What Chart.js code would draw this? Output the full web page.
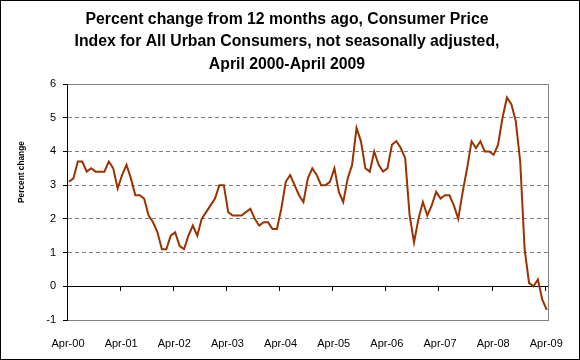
<!DOCTYPE html>
<html>
<head>
<meta charset="utf-8">
<script src="https://cdn.jsdelivr.net/npm/chart.js@4/dist/chart.umd.min.js"></script>
<style>
html, body { margin: 0; padding: 0; background: #fff; }
#wrap { width: 580px; height: 360px; box-sizing: border-box; border: 1px solid #000; background: #fff; }
canvas { display: block; }
</style>
</head>
<body>
<div id="wrap"><canvas id="c" width="578" height="358"></canvas></div>
<script>
// ---- chart data ----
const titleLines = [
  'Percent change from 12 months ago, Consumer Price',
  'Index for All Urban Consumers, not seasonally adjusted,',
  'April 2000-April 2009'
];
const yAxisTitle = 'Percent change';
const tickLabels = ['Apr-00', 'Apr-01', 'Apr-02', 'Apr-03', 'Apr-04', 'Apr-05', 'Apr-06', 'Apr-07', 'Apr-08', 'Apr-09'];
const yMin = -1;
const yMax = 6;
// monthly values, Apr 2000 .. Apr 2009
const cpiChange = [
  3.1, 3.2, 3.7, 3.7, 3.4, 3.5, 3.4, 3.4, 3.4,
  3.7, 3.5, 2.9, 3.3, 3.6, 3.2, 2.7, 2.7, 2.6, 2.1, 1.9, 1.6,
  1.1, 1.1, 1.5, 1.6, 1.2, 1.1, 1.5, 1.8, 1.5, 2.0, 2.2, 2.4,
  2.6, 3.0, 3.0, 2.2, 2.1, 2.1, 2.1, 2.2, 2.3, 2.0, 1.8, 1.9,
  1.9, 1.7, 1.7, 2.3, 3.1, 3.3, 3.0, 2.7, 2.5, 3.2, 3.5, 3.3,
  3.0, 3.0, 3.1, 3.5, 2.8, 2.5, 3.2, 3.6, 4.7, 4.3, 3.5, 3.4,
  4.0, 3.6, 3.4, 3.5, 4.2, 4.3, 4.1, 3.8, 2.1, 1.3, 2.0, 2.5,
  2.1, 2.4, 2.8, 2.6, 2.7, 2.7, 2.4, 2.0, 2.8, 3.5, 4.3, 4.1,
  4.3, 4.0, 4.0, 3.9, 4.2, 5.0, 5.6, 5.4, 4.9, 3.7, 1.1, 0.1,
  0.0, 0.2, -0.4, -0.7
];

// ---- rendering ----
Chart.defaults.font.family = "'Liberation Sans', Arial, sans-serif";
Chart.defaults.color = '#000';

const GRID_GRAY = '#808080';
const tickSpan = 9.065;          // tick axis range so year ticks fall where the reference puts them
const yearTicks = s => { s.ticks = tickLabels.map((_, i) => ({ value: i })); };

new Chart(document.getElementById('c'), {
  type: 'line',
  data: {
    datasets: [{
      data: cpiChange.map((v, i) => ({ x: i, y: v })),
      borderColor: '#993300',
      borderWidth: 2,
      pointRadius: 0,
      tension: 0,
      fill: false,
      xAxisID: 'x',
      yAxisID: 'y'
    }]
  },
  options: {
    responsive: false,
    animation: false,
    devicePixelRatio: 1,
    layout: { padding: { left: 0, right: 6, top: 0, bottom: 0 } },
    plugins: {
      legend: { display: false },
      tooltip: { enabled: false },
      title: {
        display: true,
        text: titleLines,
        color: '#000',
        font: { size: 15.8, weight: 'bold', lineHeight: 1.42 },
        padding: { top: 7.4, bottom: 8.3 }
      }
    },
    scales: {
      x: { type: 'linear', min: -0.45, max: 108.45, display: false },
      xt: {
        type: 'linear', position: { y: 0 }, min: 0, max: tickSpan,
        afterBuildTicks: yearTicks,
        ticks: { display: false },
        grid: { drawOnChartArea: false, drawTicks: true, tickLength: 4, tickColor: '#000', color: '#000' },
        border: { display: true, color: '#000', width: 1 }
      },
      x2: {
        type: 'linear', position: 'bottom', min: 0, max: tickSpan,
        afterBuildTicks: yearTicks,
        ticks: {
          callback: (v, i) => tickLabels[i],
          autoSkip: false, maxRotation: 0, minRotation: 0,
          padding: 17, labelOffset: 1,
          font: { size: 11 }, color: '#000'
        },
        grid: { display: false, drawTicks: false },
        border: { display: false },
        afterFit: s => { s.height = 39; }
      },
      y: {
        type: 'linear', position: 'left', min: yMin, max: yMax,
        ticks: { stepSize: 1, padding: 7, font: { size: 11 }, color: '#000' },
        grid: {
          color: c => (c.tick && c.tick.value === 0) ? 'rgba(0,0,0,0)' : GRID_GRAY,
          tickColor: '#000', tickLength: 4, drawTicks: true, lineWidth: 1
        },
        border: {
          display: true, color: '#000', width: 1,
          dash: c => (c.tick && c.tick.value !== yMin && c.tick.value !== yMax) ? [4, 3] : []
        },
        title: {
          display: true,
          text: ' '.repeat(26) + yAxisTitle,
          color: '#000',
          font: { size: 8.3, weight: 'bold' },
          padding: { top: 16.2, bottom: 0 }
        },
        afterFit: s => { s.width = 66; }
      },
      yr: {
        type: 'linear', position: 'right', min: yMin, max: yMax,
        ticks: { display: false },
        grid: { display: false, drawTicks: false },
        border: { display: true, color: GRID_GRAY, width: 1 },
        afterFit: s => { s.width = 21; }
      }
    }
  }
});
</script>
</body>
</html>
